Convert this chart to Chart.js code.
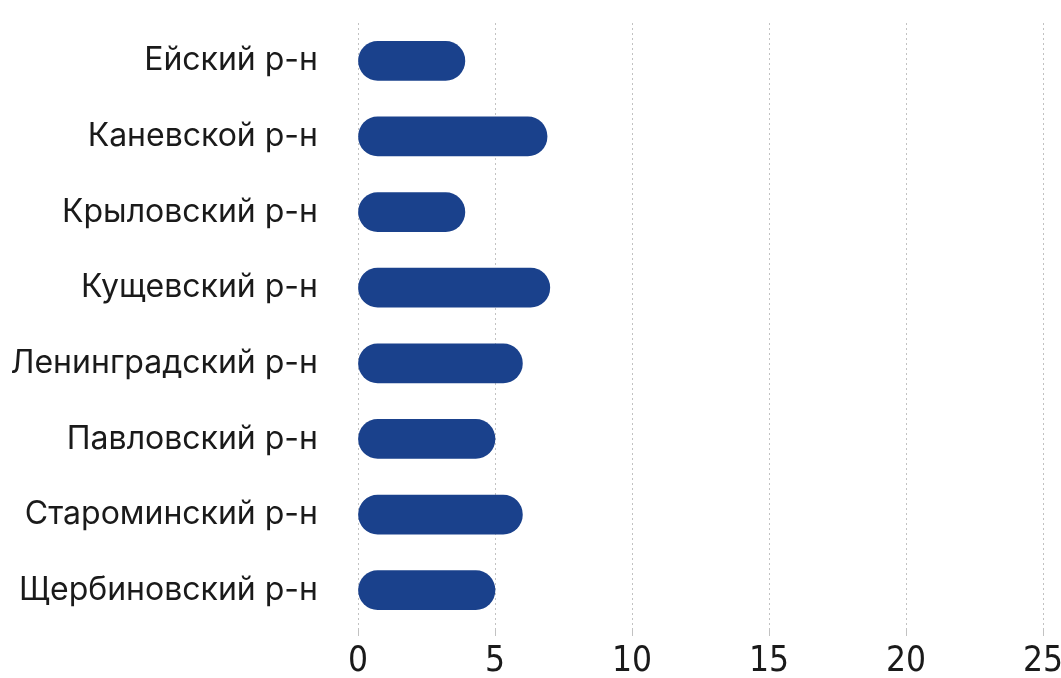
<!DOCTYPE html>
<html>
<head>
<meta charset="utf-8">
<script src="https://cdn.jsdelivr.net/npm/chart.js@4/dist/chart.umd.min.js"></script>
<style>
  html, body { margin: 0; padding: 0; background: #fff; }
  #wrap { width: 1061px; height: 678px; }
</style>
</head>
<body>
<div id="wrap"><canvas id="chart"></canvas></div>
<script>
// districts and values
const districts = [
  "Ейский р-н",
  "Каневской р-н",
  "Крыловский р-н",
  "Кущевский р-н",
  "Ленинградский р-н",
  "Павловский р-н",
  "Староминский р-н",
  "Щербиновский р-н",
];
const values = [3.9, 6.9, 3.9, 7, 6, 5, 6, 5];
const xTicks = [0, 5, 10, 15, 20, 25];

function drawChart() {
  const ctx = document.getElementById("chart").getContext("2d");
  new Chart(ctx, {
    type: "bar",
    data: {
      labels: districts,
      datasets: [
        {
          data: values,
          backgroundColor: "#1a418c",
          borderRadius: 20,
          borderSkipped: false,
          barThickness: 39,
        },
      ],
    },
    options: {
      indexAxis: "y",
      responsive: true,
      maintainAspectRatio: false,
      animation: false,
      layout: { padding: { top: 23, right: 2, left: 8, bottom: 0 } },
      plugins: {
        legend: { display: false },
        tooltip: { enabled: false },
      },
      scales: {
        x: {
          min: 0,
          max: 25,
          afterBuildTicks: (axis) => {
            axis.ticks = xTicks.map((v) => ({ value: v }));
          },
          afterFit: (axis) => {
            axis.height = 50;
            axis.paddingRight = 18;
          },
          border: { display: false, dash: [2, 3] },
          grid: {
            color: "#c2c2c2",
            lineWidth: 1,
            tickLength: 8,
          },
          ticks: {
            color: "#1a1a1a",
            padding: 5,
            font: { family: "'DejaVu Sans Condensed', 'Liberation Sans', sans-serif", size: 35 },
          },
        },
        y: {
          border: { display: false },
          grid: { display: false, drawTicks: false },
          ticks: {
            color: "#1a1a1a",
            padding: 40,
            font: { family: "Inter, 'Noto Sans', sans-serif", size: 32 },
          },
          afterFit: (axis) => {
            // fixed label column, no extra top/bottom gap from tick padding
            axis.width = 350;
            axis.paddingTop = 0;
            axis.paddingBottom = 0;
          },
        },
      },
    },
  });
}

// make sure the label fonts are ready before the axes get measured
Promise.all([
  document.fonts.load("32px Inter", "Ейский"),
  document.fonts.load("35px 'DejaVu Sans Condensed'", "0123456789"),
]).then(drawChart, drawChart);
</script>
</body>
</html>
